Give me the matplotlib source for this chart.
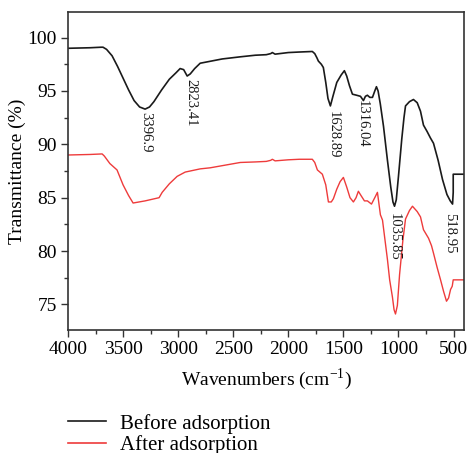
import matplotlib

matplotlib.use("Agg")

import matplotlib.pyplot as plt
from matplotlib.lines import Line2D
from matplotlib.ticker import MultipleLocator

plt.rcParams["font.family"] = ["Liberation Serif", "DejaVu Serif"]
plt.rcParams["mathtext.fontset"] = "custom"
plt.rcParams["mathtext.rm"] = "Liberation Serif"

# FTIR spectra (wavenumber, transmittance %)
before_wn = [4000, 3800, 3700, 3682, 3650, 3600, 3550, 3500, 3450, 3400, 3350, 3300,
             3260, 3220, 3150, 3080, 3020, 2982, 2950, 2918, 2890, 2850, 2800, 2700,
             2600, 2436, 2300, 2200, 2160, 2145, 2120, 2000, 1900, 1782, 1760, 1740,
             1727, 1700, 1682, 1660, 1640, 1618, 1595, 1560, 1520, 1491, 1470, 1445,
             1418, 1380, 1345, 1318, 1300, 1282, 1260, 1236, 1215, 1200, 1185, 1165,
             1136, 1100, 1070, 1050, 1036, 1020, 1000, 970, 950, 936, 900, 864, 830,
             800, 773, 740, 710, 682, 640, 600, 560, 530, 509, 503, 503, 400]
before_t = [99.0, 99.05, 99.1, 99.1, 98.9, 98.3, 97.3, 96.2, 95.1, 94.1, 93.5, 93.3,
            93.5, 94.0, 95.1, 96.1, 96.7, 97.1, 97.0, 96.4, 96.6, 97.1, 97.6, 97.8,
            98.0, 98.2, 98.35, 98.4, 98.5, 98.6, 98.45, 98.6, 98.65, 98.7, 98.5, 98.1,
            97.8, 97.5, 97.2, 95.8, 94.3, 93.6, 94.5, 95.8, 96.5, 96.9, 96.4, 95.5,
            94.7, 94.6, 94.5, 94.1, 94.5, 94.6, 94.4, 94.4, 95.0, 95.4, 95.0, 93.8,
            91.7, 88.5, 86.0, 84.6, 84.2, 84.8, 87.0, 90.5, 92.5, 93.6, 94.0, 94.2, 93.9,
            93.1, 91.8, 91.2, 90.6, 90.1, 88.5, 86.7, 85.3, 84.7, 84.4, 85.5, 87.2, 87.2]

after_wn = [4000, 3800, 3690, 3670, 3620, 3555, 3500, 3450, 3409, 3300, 3173, 3145,
            3080, 3009, 2936, 2800, 2709, 2600, 2436, 2300, 2200, 2160, 2145, 2120,
            2000, 1900, 1782, 1760, 1736, 1691, 1660, 1636, 1610, 1591, 1560, 1530,
            1500, 1470, 1440, 1409, 1385, 1364, 1340, 1309, 1282, 1245, 1215, 1191,
            1164, 1145, 1100, 1080, 1055, 1040, 1027, 1010, 990, 960, 936, 900, 873,
            830, 800, 773, 727, 700, 682, 650, 618, 590, 564, 545, 527, 512, 503, 400]
after_t = [89.0, 89.05, 89.1, 88.9, 88.2, 87.6, 86.2, 85.2, 84.5, 84.7, 85.0, 85.5,
           86.3, 87.0, 87.4, 87.7, 87.8, 88.0, 88.3, 88.35, 88.4, 88.5, 88.6, 88.45,
           88.55, 88.6, 88.6, 88.3, 87.6, 87.2, 86.2, 84.6, 84.6, 84.9, 85.8, 86.5,
           86.9, 86.0, 85.0, 84.6, 85.0, 85.6, 85.2, 84.7, 84.7, 84.4, 85.0, 85.5,
           83.4, 82.9, 79.2, 77.3, 75.7, 74.5, 74.1, 74.9, 77.8, 81.0, 83.0, 83.8, 84.2,
           83.7, 83.2, 82.0, 81.2, 80.5, 79.8, 78.5, 77.3, 76.2, 75.3, 75.6, 76.4, 76.7,
           77.3, 77.3]

peak_labels = ["3396.9", "2823.41", "1628.89", "1316.04", "1035.85", "518.95"]
peak_x = [3291, 2882, 1591, 1330, 1036, 536]
peak_y = [93.0, 96.1, 93.1, 94.2, 83.6, 83.6]

series_names = ["Before adsorption", "After adsorption"]
series_colors = ["#1a1a1a", "#ee3b3b"]

fig = plt.figure(figsize=(4.67, 4.53), dpi=100)
ax = fig.add_axes([0.1456, 0.2715, 0.848, 0.702])

ax.plot(before_wn, before_t, color=series_colors[0], linewidth=1.2)
ax.plot(after_wn, after_t, color=series_colors[1], linewidth=1.0)

for text, x, y in zip(peak_labels, peak_x, peak_y):
    ax.text(x, y, text, rotation=270, ha="center", va="top", fontsize=10.5,
            color="#1a1a1a")

ax.set_xlim(4000, 405)
ax.set_ylim(72.6, 102.4)
ax.xaxis.set_major_locator(MultipleLocator(500))
ax.xaxis.set_minor_locator(MultipleLocator(250))
ax.yaxis.set_major_locator(MultipleLocator(5))
ax.yaxis.set_minor_locator(MultipleLocator(2.5))
ax.tick_params(which="both", direction="out", width=1.0, color="#333333",
               labelsize=14, pad=3)
ax.tick_params(which="major", length=5)
ax.tick_params(which="minor", length=3)
for spine in ax.spines.values():
    spine.set_linewidth(1.2)
    spine.set_color("#333333")

ax.set_xlabel("Wavenumbers (cm$^{\\mathregular{-1}}$)", fontsize=14, labelpad=6)
ax.set_ylabel("Transmittance (%)", fontsize=14, labelpad=1)

handles = [Line2D([], [], color=c, linewidth=1.2) for c in series_colors]
fig.legend(handles, series_names, loc="center left",
           bbox_to_anchor=(0.1456, 0.041), frameon=False, fontsize=15,
           handlelength=1.83, handletextpad=0.67, labelspacing=0.08,
           borderpad=0, borderaxespad=0)

fig.savefig("out.png", dpi=100)
